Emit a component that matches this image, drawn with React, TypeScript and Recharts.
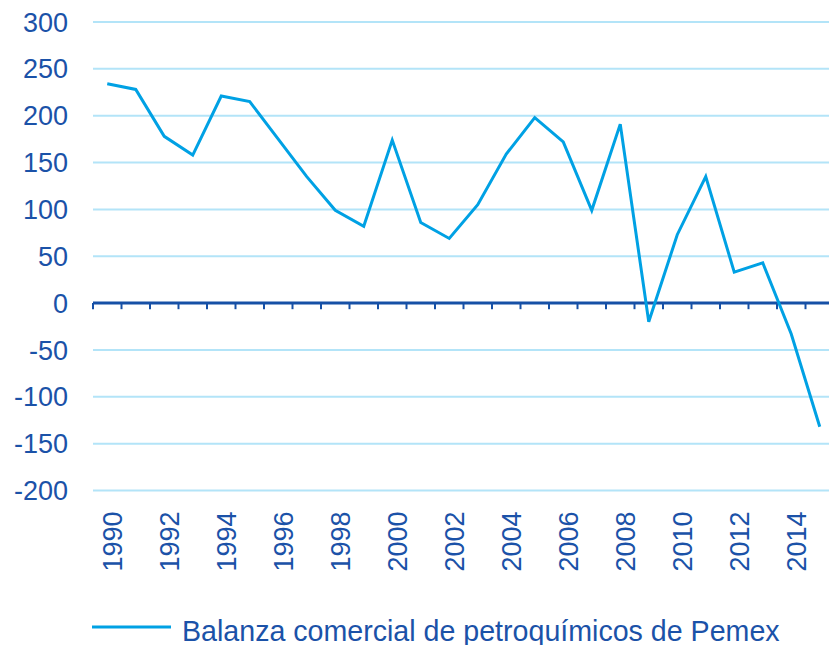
import { ComposedChart, Line, XAxis, YAxis, CartesianGrid, ReferenceLine, Legend } from 'recharts';

const years = [
  1990, 1991, 1992, 1993, 1994, 1995, 1996, 1997, 1998, 1999, 2000, 2001, 2002,
  2003, 2004, 2005, 2006, 2007, 2008, 2009, 2010, 2011, 2012, 2013, 2014, 2015,
];
const balanza = [
  234, 228, 178, 158, 221, 215, 175, 135, 99, 82, 174, 86, 69,
  105, 159, 198, 172, 99, 191, -20, 73, 135, 33, 43, -33, -132,
];
const yTicks = [-200, -150, -100, -50, 0, 50, 100, 150, 200, 250, 300];
const yearLabels = [1990, 1992, 1994, 1996, 1998, 2000, 2002, 2004, 2006, 2008, 2010, 2012, 2014];
const seriesName = 'Balanza comercial de petroquímicos de Pemex';

const data = years.map((year, i) => ({ year, balanza: balanza[i] }));

const TEXT = '#1b52a8';
const LINE = '#00a1e4';
const GRID = '#b3e4f8';
const AXIS = '#1650a6';
const FONT = '"Liberation Sans", Arial, sans-serif';

function YearTick(props: any) {
  const { x, y, payload } = props;
  return (
    <text
      x={0}
      y={0}
      transform={`translate(${x + 15},${y + 21}) rotate(-90)`}
      textAnchor="end"
      fill={TEXT}
      fontSize={27}
      fontFamily={FONT}
    >
      {payload.value}
    </text>
  );
}

function LegendLine() {
  return (
    <svg width={834} height={50} style={{ display: 'block' }}>
      <line x1={92} x2={171} y1={32} y2={32} stroke={LINE} strokeWidth={3} />
      <text x={182} y={45.5} fill={TEXT} fontSize={28.6} fontFamily={FONT}>
        {seriesName}
      </text>
    </svg>
  );
}

export default function App() {
  return (
    <div style={{ position: 'absolute', left: 0, top: 0, width: 829, height: 645, overflow: 'hidden', background: '#fff' }}>
      <ComposedChart width={834} height={645} data={data} margin={{ top: 22, right: 0, bottom: 0, left: 0 }}>
        <CartesianGrid vertical={false} stroke={GRID} strokeWidth={2} />
        <XAxis
          dataKey="year"
          type="number"
          domain={[1989.5, 2015.5]}
          ticks={yearLabels}
          interval={0}
          axisLine={false}
          tickLine={false}
          tickSize={0}
          tickMargin={0}
          height={104.5}
          tick={<YearTick />}
        />
        <YAxis
          domain={[-200, 300]}
          ticks={yTicks}
          interval={0}
          width={93}
          axisLine={false}
          tickLine={false}
          tickSize={0}
          tickMargin={25}
          tick={{ fill: TEXT, fontSize: 27, fontFamily: FONT }}
        />
        <ReferenceLine y={0} stroke={AXIS} strokeWidth={3} />
        {years.map((year) => (
          <ReferenceLine
            key={year}
            segment={[
              { x: year - 0.5, y: 0 },
              { x: year - 0.5, y: -6.5 },
            ]}
            stroke={AXIS}
            strokeWidth={2}
          />
        ))}
        <Line
          type="linear"
          dataKey="balanza"
          name={seriesName}
          stroke={LINE}
          strokeWidth={3}
          dot={false}
          isAnimationActive={false}
        />
        <Legend verticalAlign="bottom" align="left" content={<LegendLine />} wrapperStyle={{ left: 0, bottom: 0, height: 50 }} />
      </ComposedChart>
    </div>
  );
}
